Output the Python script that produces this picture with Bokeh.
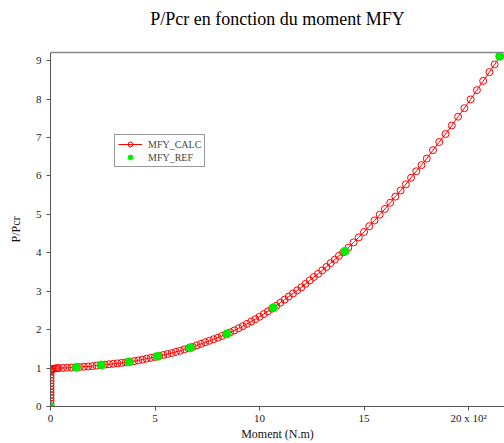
from bokeh.plotting import figure
from bokeh.models import Range1d, FixedTicker, Legend, LinearAxis
from bokeh.embed import file_html
from bokeh.resources import INLINE

# MFY_CALC (moment in units of 10^2 N.m, P/Pcr)
calc_x = [0, 0, 0, 0, 0, 0, 0, 0, 0, 0, 0, 0, 0,
          0.01, 0.04, 0.09, 0.16, 0.25, 0.32,
          0.4, 0.6, 0.8, 1.0, 1.2, 1.4, 1.6, 1.8, 2.0, 2.2, 2.4, 2.6, 2.8, 3.0,
          3.2, 3.4, 3.6, 3.8, 4.0, 4.2, 4.4, 4.6, 4.8, 5.0, 5.2, 5.4, 5.6, 5.8,
          6.0, 6.2, 6.4, 6.6, 6.8, 7.0, 7.2, 7.4, 7.6, 7.8, 8.0, 8.2, 8.4, 8.6,
          8.8, 9.0, 9.2, 9.4, 9.6, 9.8, 10.0, 10.2, 10.4, 10.6, 10.8, 11.0, 11.2,
          11.4, 11.6, 11.8, 12.0, 12.2, 12.4, 12.6, 12.8, 13.0, 13.2, 13.4, 13.6,
          13.8, 14.0, 14.25, 14.5, 14.75, 15.0, 15.25, 15.5, 15.75, 16.0, 16.25,
          16.5, 16.75, 17.0, 17.25, 17.5, 17.75, 18.0, 18.3, 18.6, 18.9, 19.2,
          19.5, 19.8, 20.1, 20.4, 20.7, 21.0, 21.25, 21.5]
calc_y = [0.0, 0.075, 0.15, 0.225, 0.3, 0.375, 0.45, 0.525, 0.6, 0.675, 0.75, 0.825, 0.9,
          0.93, 0.96, 0.975, 0.985, 0.993, 0.997,
          1.0, 1.003, 1.007, 1.012, 1.02, 1.027, 1.035, 1.042, 1.05, 1.065, 1.078,
          1.09, 1.10, 1.11, 1.122, 1.135, 1.15, 1.164, 1.18, 1.20, 1.22, 1.245,
          1.265, 1.29, 1.315, 1.34, 1.365, 1.39, 1.42, 1.45, 1.485, 1.515, 1.55,
          1.59, 1.63, 1.67, 1.71, 1.75, 1.79, 1.835, 1.88, 1.93, 1.98, 2.035,
          2.09, 2.15, 2.21, 2.27, 2.335, 2.405, 2.475, 2.545, 2.62, 2.70, 2.78,
          2.86, 2.94, 3.02, 3.10, 3.19, 3.28, 3.37, 3.45, 3.54, 3.63, 3.73, 3.82,
          3.92, 4.01, 4.13, 4.27, 4.40, 4.54, 4.69, 4.84, 4.99, 5.14, 5.30, 5.46,
          5.62, 5.78, 5.95, 6.12, 6.28, 6.45, 6.67, 6.88, 7.09, 7.31, 7.54, 7.76,
          7.99, 8.23, 8.47, 8.70, 8.90, 9.11]

# MFY_REF
ref_x = [0.0, 1.24, 2.44, 3.76, 5.14, 6.69, 8.44, 10.66, 14.09, 21.49]
ref_y = [0.0, 1.02, 1.08, 1.16, 1.31, 1.53, 1.89, 2.57, 4.04, 9.11]

x_ticks = [0, 5, 10, 15, 20]
x_tick_labels = {0: "0", 5: "5", 10: "10", 15: "15", 20: "20 x 10\u00b2"}
y_ticks = [0, 1, 2, 3, 4, 5, 6, 7, 8, 9]

SERIF = "Liberation Serif"
AX = "#555555"

p = figure(width=504, height=443, output_backend="svg", toolbar_location=None,
           x_range=Range1d(0, 21.72), y_range=Range1d(0, 9.21),
           min_border_left=50, min_border_right=0, min_border_top=52, min_border_bottom=37,
           title="P/Pcr en fonction du moment MFY")
p.outline_line_color = None
p.grid.grid_line_color = None
p.background_fill_color = "white"
p.border_fill_color = "white"

p.title.text_font = SERIF
p.title.text_font_size = "18px"
p.title.text_font_style = "normal"
p.title.align = "center"
p.title.text_color = "black"

xb = p.below[0]
yl = p.left[0]

# top frame line; its invisible label keeps the title well above the frame
top_axis = LinearAxis(ticker=FixedTicker(ticks=[]), axis_line_color="#888888",
                      axis_line_width=1.5, major_tick_line_color=None,
                      major_tick_in=0, major_tick_out=0,
                      minor_tick_line_color=None, minor_tick_in=0, minor_tick_out=0,
                      major_label_standoff=0,
                      axis_label="P", axis_label_text_color=None,
                      axis_label_text_font_size="14px", axis_label_standoff=0)
p.add_layout(top_axis, "above")

for ax in (xb, yl):
    ax.axis_line_color = AX
    ax.major_tick_line_color = AX
    ax.major_tick_in = 0
    ax.major_tick_out = 4
    ax.minor_tick_line_color = None
    ax.major_label_text_font = SERIF
    ax.major_label_text_font_size = "11px"
    ax.major_label_text_color = "#222222"
    ax.axis_label_text_font = SERIF
    ax.axis_label_text_font_size = "12px"
    ax.axis_label_text_font_style = "normal"
    ax.axis_label_text_color = "#111111"

xb.ticker = FixedTicker(ticks=x_ticks)
xb.major_label_overrides = x_tick_labels
xb.axis_label = "Moment (N.m)"
xb.major_label_standoff = 1
xb.axis_label_standoff = 0

yl.ticker = FixedTicker(ticks=y_ticks)
yl.axis_label = "P/Pcr"
yl.major_label_standoff = 5
yl.axis_label_standoff = 10

r_line = p.line(calc_x, calc_y, line_color="red", line_width=1)
r_circ = p.scatter(calc_x, calc_y, marker="circle", size=7, fill_color=None,
                   line_color="red", line_width=1)
r_ref = p.scatter(ref_x, ref_y, marker="circle", size=8, fill_color="#00ee00",
                  line_color="#00ee00")

legend = Legend(items=[("MFY_CALC", [r_line, r_circ]), ("MFY_REF", [r_ref])],
                location=(64, 239))
legend.label_text_font = SERIF
legend.label_text_font_size = "10px"
legend.border_line_color = "#333333"
legend.border_line_width = 1
legend.background_fill_alpha = 1
legend.padding = 3
legend.spacing = 1
legend.margin = 0
legend.glyph_width = 24
legend.glyph_height = 12
legend.label_height = 12
legend.label_standoff = 6
p.add_layout(legend, "center")

open("out.html", "w").write(file_html(p, INLINE))
